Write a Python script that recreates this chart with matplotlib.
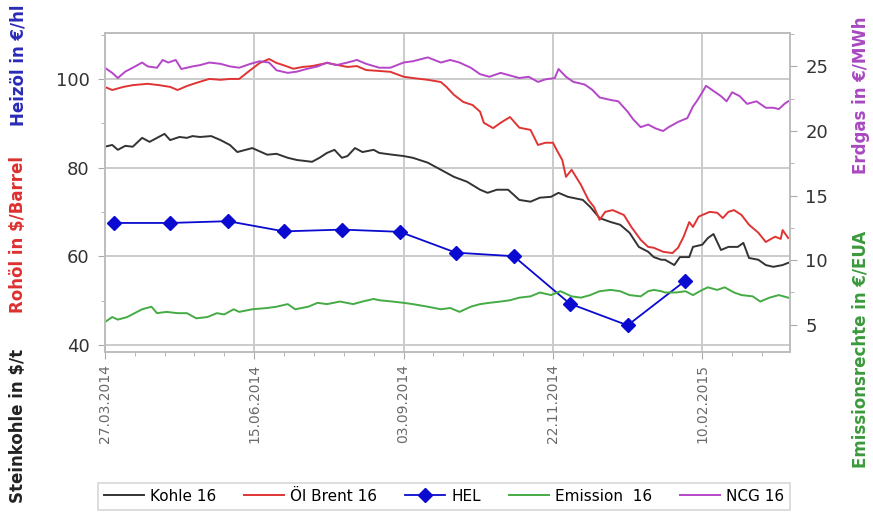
"""Fuel, emission and gas forward prices 2014/2015 (twin y-axes)."""

import matplotlib

matplotlib.use("Agg")
import matplotlib.pyplot as plt
import matplotlib.dates as mdates
from matplotlib.ticker import MultipleLocator, FixedLocator
import pandas as pd

START = pd.Timestamp("2014-03-27")
END_DAY = 367

# day offsets from 27.03.2014 and values
KOHLE_DAYS = [0, 4, 7, 11, 15, 20, 24, 28, 32, 35, 40, 44, 47, 51, 57, 62, 67, 71, 79, 87,
              92, 98, 103, 111, 115, 119, 123, 127, 130, 134, 138, 144, 147, 154, 160, 165,
              173, 180, 187, 194, 201, 205, 210, 216, 222, 228, 233, 239, 243, 248, 256, 260,
              265, 271, 276, 281, 286, 291, 294, 298, 300, 305, 308, 313, 315, 320, 323, 326,
              330, 334, 339, 342, 345, 350, 354, 358, 363, 366]
KOHLE = [84.7, 85.1, 84.0, 84.9, 84.7, 86.7, 85.8, 86.7, 87.6, 86.2, 86.9, 86.7, 87.1, 86.9,
         87.1, 86.2, 85.1, 83.5, 84.4, 82.9, 83.1, 82.2, 81.7, 81.3, 82.2, 83.3, 84.0, 82.2,
         82.6, 84.4, 83.5, 84.0, 83.3, 82.9, 82.6, 82.2, 81.1, 79.5, 77.9, 76.8, 75.0, 74.3,
         75.0, 75.0, 72.7, 72.3, 73.2, 73.4, 74.3, 73.4, 72.7, 71.1, 68.6, 67.7, 67.1, 65.3,
         62.1, 61.0, 59.8, 59.2, 59.2, 58.0, 59.8, 59.8, 62.1, 62.6, 64.1, 65.0, 61.4, 62.1,
         62.1, 63.0, 59.6, 59.2, 58.0, 57.6, 58.0, 58.5]

BRENT_DAYS = [0, 4, 10, 15, 23, 29, 35, 39, 44, 49, 56, 62, 67, 72, 78, 83, 88, 92, 95, 101,
              106, 111, 119, 124, 130, 135, 140, 147, 153, 160, 165, 173, 180, 183, 187, 192,
              197, 201, 203, 208, 212, 217, 222, 228, 232, 236, 240, 242, 245, 247, 250, 255,
              259, 262, 265, 268, 272, 278, 282, 287, 291, 294, 299, 304, 307, 310, 313, 315,
              318, 320, 324, 328, 331, 334, 337, 341, 345, 350, 354, 356, 359, 362, 363, 366]
BRENT = [98.2, 97.5, 98.2, 98.6, 98.9, 98.6, 98.2, 97.5, 98.4, 99.1, 100.0, 99.8, 100.0,
         100.0, 102.0, 103.6, 104.5, 103.6, 103.2, 102.3, 102.7, 102.9, 103.6, 103.2, 102.7,
         102.9, 102.0, 101.8, 101.6, 100.5, 100.2, 99.8, 99.3, 98.2, 96.4, 94.8, 94.1, 92.6,
         90.1, 88.9, 90.1, 91.4, 89.0, 88.5, 85.1, 85.6, 85.6, 84.0, 81.7, 77.9, 79.5, 76.1,
         72.7, 71.1, 68.2, 70.0, 70.4, 69.3, 66.6, 63.7, 62.1, 61.9, 61.0, 60.7, 61.9, 64.4,
         67.7, 66.6, 68.9, 69.3, 70.0, 69.8, 68.6, 70.0, 70.4, 69.3, 67.1, 65.3, 63.2, 63.7,
         64.4, 63.9, 65.9, 64.1]

HEL_DATES = ["2014-04-01", "2014-05-01", "2014-06-01", "2014-07-01", "2014-08-01",
             "2014-09-01", "2014-10-01", "2014-11-01", "2014-12-01", "2015-01-01",
             "2015-02-01"]
HEL = [67.5, 67.5, 67.9, 65.6, 66.0, 65.5, 60.8, 60.0, 49.3, 44.4, 54.5]

EMISSION_DAYS = [0, 4, 7, 12, 16, 20, 25, 28, 33, 39, 44, 49, 55, 60, 64, 69, 72, 79, 87, 92,
                 98, 102, 109, 114, 119, 126, 133, 138, 144, 147, 154, 160, 165, 173, 180,
                 185, 190, 196, 201, 206, 212, 217, 222, 228, 233, 239, 244, 250, 255, 260,
                 265, 271, 276, 281, 287, 291, 294, 298, 300, 306, 311, 315, 320, 323, 328,
                 332, 337, 341, 347, 351, 356, 361, 366]
EMISSION = [5.2, 5.6, 5.4, 5.6, 5.9, 6.2, 6.4, 5.9, 6.0, 5.9, 5.9, 5.5, 5.6, 5.9, 5.8, 6.2,
            6.0, 6.2, 6.3, 6.4, 6.6, 6.2, 6.4, 6.7, 6.6, 6.8, 6.6, 6.8, 7.0, 6.9, 6.8, 6.7,
            6.6, 6.4, 6.2, 6.3, 6.0, 6.4, 6.6, 6.7, 6.8, 6.9, 7.1, 7.2, 7.5, 7.3, 7.6, 7.2,
            7.1, 7.3, 7.6, 7.7, 7.6, 7.3, 7.2, 7.6, 7.7, 7.6, 7.5, 7.5, 7.6, 7.3, 7.7, 7.9,
            7.7, 7.9, 7.5, 7.3, 7.2, 6.8, 7.1, 7.3, 7.1]

NCG_DAYS = [0, 4, 7, 11, 15, 20, 23, 28, 31, 34, 38, 41, 47, 51, 56, 62, 67, 72, 78, 83,
            88, 92, 98, 103, 108, 114, 119, 124, 130, 135, 140, 147, 153, 160, 165, 173,
            180, 185, 190, 196, 201, 206, 212, 217, 222, 227, 232, 236, 241, 243, 247, 251,
            257, 261, 265, 271, 275, 280, 283, 287, 291, 295, 299, 302, 307, 312, 315, 317,
            320, 322, 326, 330, 333, 336, 340, 344, 349, 354, 358, 361, 364, 366]
NCG = [24.9, 24.5, 24.1, 24.6, 24.9, 25.3, 25.0, 24.9, 25.5, 25.3, 25.5, 24.8, 25.0, 25.1,
       25.3, 25.2, 25.0, 24.9, 25.2, 25.4, 25.3, 24.7, 24.5, 24.6, 24.8, 25.0, 25.3, 25.1,
       25.3, 25.5, 25.2, 24.9, 24.9, 25.3, 25.4, 25.7, 25.3, 25.5, 25.3, 24.9, 24.4, 24.2,
       24.5, 24.3, 24.1, 24.2, 23.8, 24.0, 24.1, 24.8, 24.2, 23.8, 23.6, 23.2, 22.6, 22.4,
       22.3, 21.5, 20.9, 20.3, 20.5, 20.2, 20.0, 20.3, 20.7, 21.0, 21.9, 22.3, 23.0, 23.5,
       23.1, 22.7, 22.3, 23.0, 22.7, 22.1, 22.3, 21.8, 21.8, 21.7, 22.1, 22.3]

X_TICKS = ["27.03.2014", "15.06.2014", "03.09.2014", "22.11.2014", "10.02.2015"]
LEFT_TICKS = [40, 60, 80, 100]
RIGHT_TICKS = [5, 10, 15, 20, 25]

C_KOHLE = "#333333"
C_BRENT = "#e03434"
C_HEL = "#0a0ad0"
C_EMIS = "#45ab45"
C_NCG = "#b446c8"
GRID = "#cbcbcb"


def to_dates(days):
    return START + pd.to_timedelta(days, unit="D")


def main():
    fig = plt.figure(figsize=(8.73, 5.13), dpi=100)
    ax = fig.add_axes([0.120, 0.314, 0.785, 0.622])
    ax2 = ax.twinx()

    l1, = ax.plot(to_dates(KOHLE_DAYS), KOHLE, color=C_KOHLE, lw=1.4, label="Kohle 16")
    l2, = ax.plot(to_dates(BRENT_DAYS), BRENT, color=C_BRENT, lw=1.4, label="Öl Brent 16")
    l3, = ax.plot(pd.to_datetime(HEL_DATES), HEL, color=C_HEL, lw=1.3, marker="D",
                  markersize=7.5, label="HEL", zorder=4)
    l4, = ax2.plot(to_dates(EMISSION_DAYS), EMISSION, color=C_EMIS, lw=1.4,
                   label="Emission  16")
    l5, = ax2.plot(to_dates(NCG_DAYS), NCG, color=C_NCG, lw=1.4, label="NCG 16")

    ax.set_xlim(START, START + pd.Timedelta(days=END_DAY))
    ax.set_ylim(38.4, 110.4)
    ax2.set_ylim(2.9, 27.6)

    xt = pd.to_datetime(X_TICKS, format="%d.%m.%Y")
    ax.set_xticks(xt)
    ax.set_xticklabels(X_TICKS, rotation=90, fontsize=10, color="#6a6a6a")
    ax.xaxis.set_minor_locator(FixedLocator(
        mdates.date2num(list(START + pd.to_timedelta(range(0, END_DAY, 16), unit="D")))))
    ax.set_yticks(LEFT_TICKS)
    ax.yaxis.set_minor_locator(MultipleLocator(10))
    ax2.set_yticks(RIGHT_TICKS)
    ax2.yaxis.set_minor_locator(MultipleLocator(2.5))

    ax.grid(True, which="major", color=GRID, lw=1.4)
    ax.set_axisbelow(True)
    for a in (ax, ax2):
        for sp in a.spines.values():
            sp.set_color("#bdbdbd")
            sp.set_linewidth(1.2)
        a.tick_params(which="both", color="#aaaaaa", direction="out")
        a.tick_params(which="major", length=5)
        a.tick_params(which="minor", length=3)
    ax.tick_params(axis="y", labelsize=13, labelcolor="#333333", pad=6)
    ax2.tick_params(axis="y", labelsize=13, labelcolor="#333333", pad=6)

    # stacked axis titles
    lab = dict(rotation=90, fontsize=12, fontweight="bold", ha="center", va="center")
    fig.text(0.021, 0.170, "Steinkohle in $/t", color="#222222", **lab)
    fig.text(0.021, 0.542, "Rohöl in $/Barrel", color="#dd3030", **lab)
    fig.text(0.021, 0.872, "Heizöl in €/hl", color="#2a2ab8", **lab)
    fig.text(0.986, 0.318, "Emissionsrechte in €/EUA", color="#3b9a3b", **lab)
    fig.text(0.986, 0.815, "Erdgas in €/MWh", color="#a848c0", **lab)

    leg = fig.legend([l1, l2, l3, l4, l5], [h.get_label() for h in (l1, l2, l3, l4, l5)],
                     loc="lower left", bbox_to_anchor=(0.112, 0.006, 0.793, 0.072),
                     mode="expand", ncol=5, fontsize=11, handlelength=2.6,
                     handletextpad=0.4, borderaxespad=0, fancybox=False)
    leg.get_frame().set_edgecolor("#cccccc")
    leg.get_frame().set_linewidth(1.2)

    fig.savefig("out.png", dpi=100)


if __name__ == "__main__":
    main()
